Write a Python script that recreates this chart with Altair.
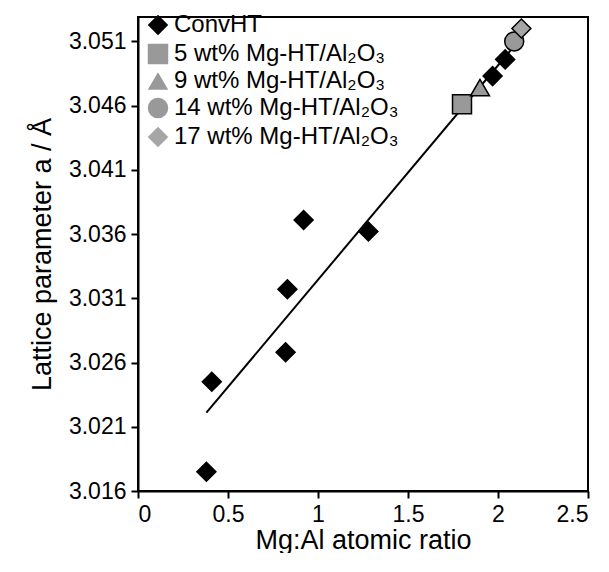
import altair as alt
import pandas as pd

series = ["ConvHT", "5 wt% Mg-HT/Al₂O₃", "9 wt% Mg-HT/Al₂O₃", "14 wt% Mg-HT/Al₂O₃", "17 wt% Mg-HT/Al₂O₃"]
shapes = ["diamond", "square", "triangle-up", "circle", "diamond"]
fills = ["#000000", "#999999", "#999999", "#999999", "#a6a6a6"]

conv_x = [0.38, 0.41, 0.82, 0.83, 0.92, 1.28, 1.97, 2.04]
conv_y = [3.0175, 3.0245, 3.0268, 3.0317, 3.0371, 3.0362, 3.0483, 3.0496]
other_x = [1.80, 1.90, 2.09, 2.13]
other_y = [3.0461, 3.0474, 3.0510, 3.0520]

fit_x = [0.38, 2.10]
fit_y = [3.0221, 3.0508]

rows = [{"x": a, "y": b, "s": series[0]} for a, b in zip(conv_x, conv_y)]
rows += [{"x": a, "y": b, "s": s} for a, b, s in zip(other_x, other_y, series[1:])]
df = pd.DataFrame(rows)
fit = pd.DataFrame({"x": fit_x, "y": fit_y})

xs = alt.Scale(domain=[0, 2.5], nice=False)
ys = alt.Scale(domain=[3.016, 3.0529], nice=False, zero=False)

line = alt.Chart(fit).mark_line(color="black", strokeWidth=2).encode(
    x=alt.X("x:Q", scale=xs), y=alt.Y("y:Q", scale=ys)
)

pts = alt.Chart(df).mark_point(filled=True, size=360, stroke="black", strokeWidth=1.5, opacity=1).encode(
    x=alt.X("x:Q", scale=xs, title="Mg:Al atomic ratio",
            axis=alt.Axis(values=[0, 0.5, 1, 1.5, 2, 2.5], format="~g")),
    y=alt.Y("y:Q", scale=ys, title="Lattice parameter a / Å",
            axis=alt.Axis(values=[3.016 + 0.005 * i for i in range(8)], format=".3f")),
    shape=alt.Shape("s:N", scale=alt.Scale(domain=series, range=shapes), title=None),
    fill=alt.Fill("s:N", scale=alt.Scale(domain=series, range=fills), title=None),
)

chart = alt.layer(line, pts).properties(
    width=450, height=474, padding={"left": 20, "top": 5, "right": 2, "bottom": 0}
).configure_view(stroke="black", strokeWidth=2).configure_axis(
    grid=False, domainColor="black", domainWidth=2, tickColor="black", tickWidth=2,
    tickSize=7, labelFont="Liberation Sans", labelFontSize=23, labelColor="black",
    titleFont="Liberation Sans", titleFontSize=27, titleFontWeight="normal", titleColor="black", labelPadding=5
).configure_axisY(titlePadding=12).configure_axisX(titlePadding=1).configure_legend(
    orient="none", legendX=8, legendY=-4, labelFont="Liberation Sans", labelFontSize=24,
    labelColor="black", symbolSize=420, symbolStrokeWidth=1.5, symbolStrokeColor="black",
    rowPadding=1, labelLimit=400
)

chart.save("out.html", embed_options={"renderer": "svg", "actions": False})
